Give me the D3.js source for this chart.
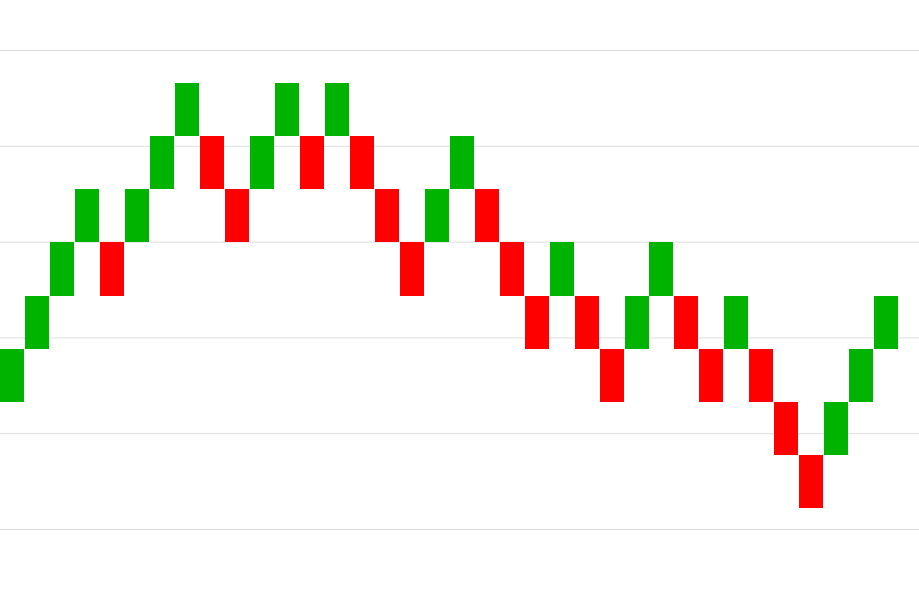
<!DOCTYPE html>
<html>
<head>
<meta charset="utf-8">
<script src="https://cdn.jsdelivr.net/npm/d3@7"></script>
<style>
  html, body { margin: 0; padding: 0; background: #ffffff; }
  svg { display: block; }
</style>
</head>
<body>
<svg id="chart" width="919" height="607"></svg>
<script>
// Renko bricks (price units)
const opens = [233.3, 288.8, 344.2, 399.7, 399.7, 399.7, 455.1, 510.6, 510.6, 455.1, 455.1, 510.6, 510.6, 510.6, 510.6, 455.1, 399.7, 399.7, 455.1, 455.1, 399.7, 344.2, 344.2, 344.2, 288.8, 288.8, 344.2, 344.2, 288.8, 288.8, 288.8, 233.3, 177.9, 177.9, 233.3, 288.8];
const closes = [288.8, 344.2, 399.7, 455.1, 344.2, 455.1, 510.6, 566.0, 455.1, 399.7, 510.6, 566.0, 455.1, 566.0, 455.1, 399.7, 344.2, 455.1, 510.6, 399.7, 344.2, 288.8, 399.7, 288.8, 233.3, 344.2, 399.7, 288.8, 233.3, 344.2, 233.3, 177.9, 122.4, 233.3, 288.8, 344.2];
const gridTicks = [100, 200, 300, 400, 500, 600];

const upColor = "#00b300";
const downColor = "#ff0000";

const data = opens.map((o, i) => ({ i, open: o, close: closes[i] }));

const svg = d3.select("#chart");

const x = d3.scaleBand()
  .domain(data.map(d => d.i))
  .range([0, 898.3])
  .paddingInner(0.04)
  .paddingOuter(0);

const y = d3.scaleLinear()
  .domain([100, 600])
  .range([529.5, 50.5]);

// gridlines
const yAxis = d3.axisLeft(y)
  .tickValues(gridTicks)
  .tickSize(-919)
  .tickFormat("")
  .offset(0);
const g = svg.append("g").attr("class", "grid").call(yAxis);
g.select(".domain").remove();
g.selectAll(".tick line")
  .attr("stroke", "#dedede")
  .attr("stroke-width", 1);

// bricks
svg.append("g").selectAll("rect")
  .data(data)
  .join("rect")
  .attr("x", d => Math.round(x(d.i)))
  .attr("width", 24)
  .attr("y", d => y(Math.max(d.open, d.close)))
  .attr("height", d => Math.abs(y(d.open) - y(d.close)))
  .attr("fill", d => d.close >= d.open ? upColor : downColor)
  .attr("shape-rendering", "crispEdges");
</script>
</body>
</html>
